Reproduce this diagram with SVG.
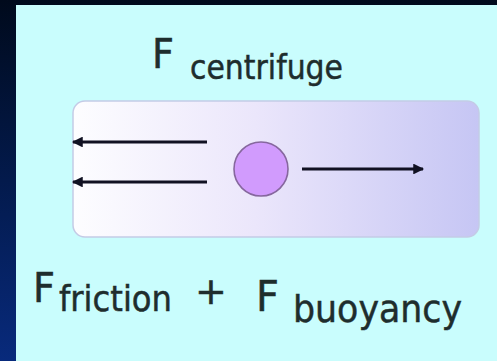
<svg xmlns="http://www.w3.org/2000/svg" width="497" height="361" viewBox="0 0 497 361">
  <defs>
    <linearGradient id="bg" x1="0" y1="0" x2="0" y2="1">
      <stop offset="0" stop-color="#000a1c"/>
      <stop offset="0.5" stop-color="#031a4c"/>
      <stop offset="1" stop-color="#082a7c"/>
    </linearGradient>
    <linearGradient id="tube" x1="0" y1="0" x2="1" y2="0">
      <stop offset="0" stop-color="#fdfdff"/>
      <stop offset="0.45" stop-color="#ebe6fb"/>
      <stop offset="1" stop-color="#c6c6f4"/>
    </linearGradient>
    <marker id="head" viewBox="0 0 10 10" refX="9" refY="5" markerWidth="4" markerHeight="3.6" orient="auto" markerUnits="strokeWidth">
      <path d="M0,0 L10,5 L0,10 z" fill="#111122"/>
    </marker>
    <style>
      .lbl { font-family: "DejaVu Sans", "Liberation Sans", sans-serif; fill: #1e2d2d; stroke: #1e2d2d; stroke-width: 0.5; }
      .arrow { stroke: #111122; stroke-width: 3; fill: none; marker-end: url(#head); }
    </style>
  </defs>
  <rect x="0" y="0" width="497" height="361" fill="url(#bg)"/>
  <rect x="16" y="5" width="481" height="356" fill="#c9fdfd"/>

  <g id="tube-node">
    <rect x="73" y="101" width="406" height="136" rx="12" fill="url(#tube)" stroke="#c4cbe6" stroke-width="1.5"/>
  </g>

  <g id="particle">
    <circle cx="261" cy="169" r="27" fill="#d19bfd" stroke="#86679e" stroke-width="1.6"/>
  </g>

  <g id="connectors">
    <line class="arrow" x1="207" y1="142" x2="73" y2="142"/>
    <line class="arrow" x1="207" y1="182" x2="73" y2="182"/>
    <line class="arrow" x1="302" y1="169" x2="423" y2="169"/>
  </g>

  <g id="label-centrifuge">
    <text class="lbl" x="152" y="68" font-size="40" textLength="22" lengthAdjust="spacingAndGlyphs">F</text>
    <text class="lbl" x="190" y="79" font-size="34" textLength="153" lengthAdjust="spacingAndGlyphs">centrifuge</text>
  </g>

  <g id="label-friction-buoyancy">
    <text class="lbl" x="33" y="302" font-size="40" textLength="22" lengthAdjust="spacingAndGlyphs">F</text>
    <text class="lbl" x="59" y="311" font-size="35" textLength="113" lengthAdjust="spacingAndGlyphs">friction</text>
    <text class="lbl" x="211" y="304" font-size="38" text-anchor="middle">+</text>
    <text class="lbl" x="256" y="311" font-size="42" textLength="23" lengthAdjust="spacingAndGlyphs">F</text>
    <text class="lbl" x="293" y="322" font-size="38" textLength="169" lengthAdjust="spacingAndGlyphs">buoyancy</text>
  </g>
</svg>
